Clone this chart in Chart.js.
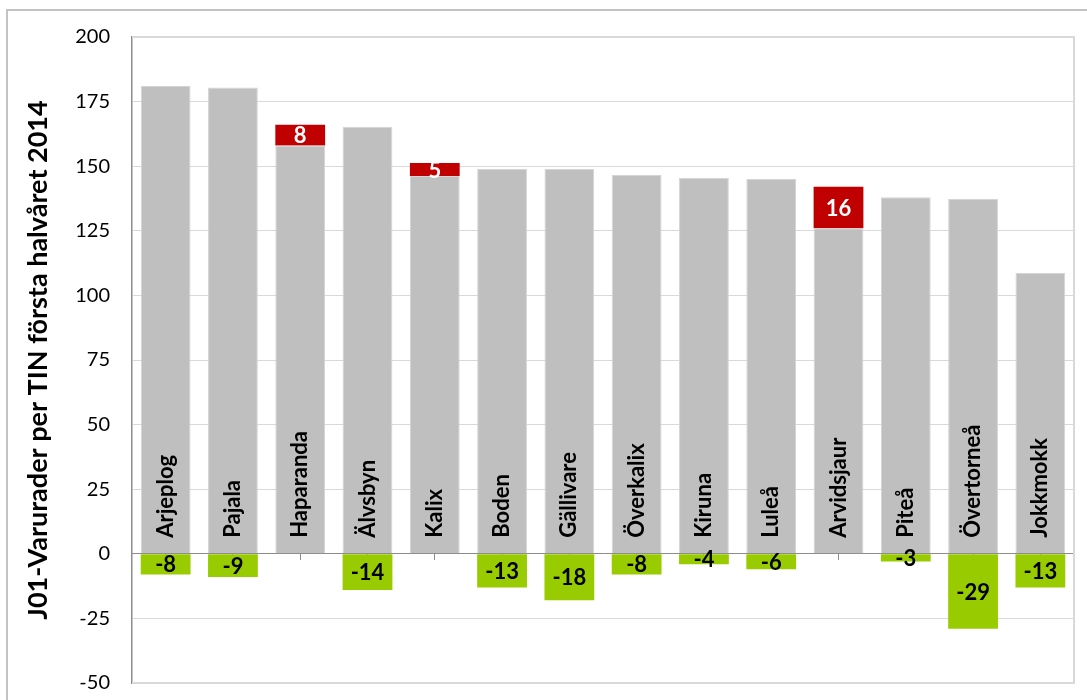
<!DOCTYPE html>
<html lang="sv">
<head>
<meta charset="utf-8">
<title>J01-Varurader per TIN</title>
<script src="https://cdn.jsdelivr.net/npm/chart.js@4.4.1/dist/chart.umd.min.js"></script>
<style>
    html, body { margin: 0; padding: 0; background: #ffffff; overflow: hidden; }
    #frame {
        position: absolute; left: 6px; top: 9px;
        width: 1120px; height: 740px;
        border: 2px solid #c3c3c3;
    }
    #chart { position: absolute; left: 0; top: 0; }
</style>
</head>
<body>
<div id="frame"></div>
<canvas id="chart" width="1087" height="700"></canvas>
<script>
// Kommuner, sorterade efter antal varurader
const categories = ["Arjeplog", "Pajala", "Haparanda", "Älvsbyn", "Kalix", "Boden", "Gällivare",
    "Överkalix", "Kiruna", "Luleå", "Arvidsjaur", "Piteå", "Övertorneå", "Jokkmokk"];

// Grundstapel (grå)
const baseValues = [181, 180.5, 158, 165.3, 146.2, 149, 149, 146.6, 145.5, 145, 126, 138, 137.3, 108.8];

// Ökning (röd) och minskning (grön)
const increase = [null, null, 8, null, 5, null, null, null, null, null, 16, null, null, null];
const decrease = [-8, -9, null, -14, null, -13, -18, -8, -4, -6, null, -3, -29, -13];

const yMin = -50;
const yMax = 200;
const yStep = 25;
const yTitle = "J01-Varurader per TIN första halvåret 2014";

const GREY = "#bfbfbf";
const RED = "#c00000";
const GREEN = "#99cc00";
const GRID = "#d9d9d9";
const AXIS = "#8c8c8c";
const FONT = "Lato, 'Open Sans', sans-serif";

// Kommunnamn, lodrätt inne i den grå stapeln strax ovanför nollan
const categoryLabels = {
    id: "categoryLabels",
    afterDatasetsDraw(chart) {
        const ctx = chart.ctx;
        const x = chart.scales.x;
        const y = chart.scales.y;
        const y0 = y.getPixelForValue(0);
        ctx.save();
        ctx.font = "bold 22px " + FONT;
        ctx.fillStyle = "#000000";
        ctx.textAlign = "left";
        ctx.textBaseline = "middle";
        categories.forEach((name, i) => {
            ctx.save();
            ctx.translate(x.getPixelForValue(i), y0 - 16);
            ctx.rotate(-Math.PI / 2);
            ctx.fillText(name, 0, 0);
            ctx.restore();
        });
        ctx.restore();
    }
};

// Värdeetiketter mitt i de röda och gröna staplarna
const valueLabels = {
    id: "valueLabels",
    afterDatasetsDraw(chart) {
        const ctx = chart.ctx;
        ctx.save();
        ctx.font = "bold 22px " + FONT;
        ctx.textAlign = "center";
        ctx.textBaseline = "middle";
        [1, 2].forEach(di => {
            const meta = chart.getDatasetMeta(di);
            const values = chart.data.datasets[di].data;
            ctx.fillStyle = di === 1 ? "#ffffff" : "#000000";
            meta.data.forEach((bar, i) => {
                if (values[i] === null) return;
                const p = bar.getCenterPoint();
                ctx.fillText(String(values[i]), p.x, p.y + 1);
            });
        });
        ctx.restore();
    }
};

// Ram runt ritytan (höger och nederkant)
const plotBorder = {
    id: "plotBorder",
    beforeDatasetsDraw(chart) {
        const a = chart.chartArea;
        const ctx = chart.ctx;
        ctx.save();
        ctx.strokeStyle = GRID;
        ctx.lineWidth = 2;
        ctx.beginPath();
        ctx.moveTo(a.left, a.top);
        ctx.lineTo(a.right, a.top);
        ctx.lineTo(a.right, a.bottom);
        ctx.lineTo(a.left, a.bottom);
        ctx.stroke();
        ctx.restore();
    }
};

new Chart(document.getElementById("chart"), {
    type: "bar",
    data: {
        labels: categories,
        datasets: [
            { data: baseValues, backgroundColor: GREY, borderColor: "#d4d4d4", borderWidth: 1 },
            { data: increase, backgroundColor: RED, borderWidth: 0 },
            { data: decrease, backgroundColor: GREEN, borderWidth: 0 },
        ],
    },
    options: {
        responsive: false,
        animation: false,
        devicePixelRatio: 1,
        barPercentage: 0.74,
        categoryPercentage: 1,
        layout: { padding: { left: 18, top: 37, right: 13, bottom: 17 } },
        plugins: {
            legend: { display: false },
            tooltip: { enabled: false },
        },
        scales: {
            x: {
                stacked: true,
                position: { y: 0 },
                z: 1,
                afterFit(scale) { scale.height = 0; },
                grid: {
                    drawOnChartArea: false,
                    offset: false,
                    tickLength: 6,
                    color: AXIS,
                },
                border: { color: AXIS, width: 1 },
                ticks: { display: false },
            },
            y: {
                stacked: true,
                min: yMin,
                max: yMax,
                afterFit(scale) { scale.width = 114; },
                // osynliga tickstreck ger avståndet mellan siffror och axel
                grid: { color: GRID, lineWidth: 1, drawTicks: true, tickLength: 22, tickColor: "rgba(0,0,0,0)" },
                border: { color: AXIS, width: 1.5 },
                ticks: {
                    stepSize: yStep,
                    padding: 0,
                    color: "#000000",
                    font: { family: FONT, size: 20 },
                },
                title: {
                    display: true,
                    text: yTitle,
                    color: "#000000",
                    font: { family: FONT, size: 27, weight: "bold" },
                },
            },
        },
    },
    plugins: [plotBorder, categoryLabels, valueLabels],
});
</script>
</body>
</html>
